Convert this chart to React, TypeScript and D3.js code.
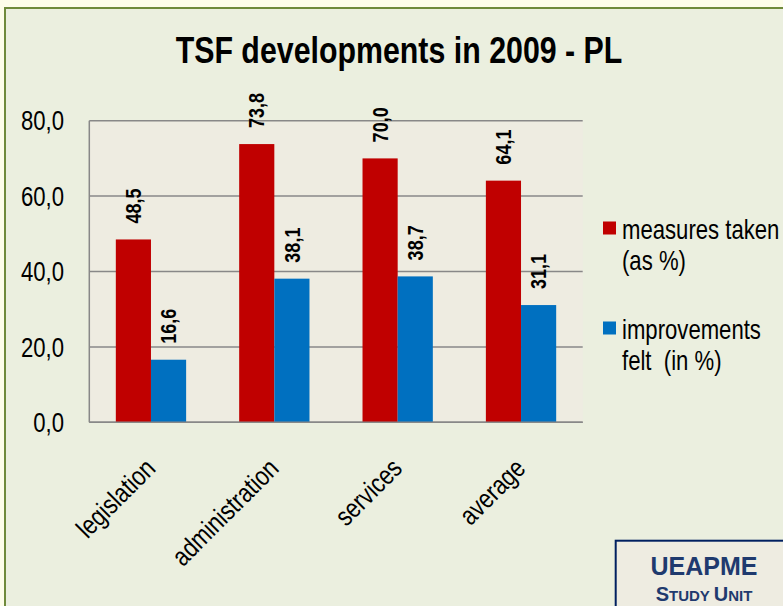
import React from "react";
import { scaleBand, scaleLinear, formatLocale } from "d3";

const categories = ["legislation", "administration", "services", "average"];
const measuresTaken = [48.5, 73.8, 70.0, 64.1];
const improvementsFelt = [16.6, 38.1, 38.7, 31.1];
const seriesKeys = ["measures", "improvements"];
const yTicks = [0, 20, 40, 60, 80];

const width = 783;
const height = 606;
const plot = { left: 89.3, right: 582.7, top: 120.7, bottom: 422.3 };

// Arial Narrow isn't installed -> squeeze Liberation Sans along the text direction
const sans = "'Liberation Sans', Arial, sans-serif";
const squeeze = 0.82;
const colors = { measures: "#c00000", improvements: "#0070c0" };
const fmt = formatLocale({ decimal: ",", thousands: ".", grouping: [3], currency: ["", ""] }).format(".1f");

const NarrowText = ({ x, y, rotate = 0, anchor = "start", size, bold = false, dy = undefined, fill = "#000", children }) => (
	<text
		transform={`translate(${x},${y}) rotate(${rotate}) scale(${squeeze},1)`}
		textAnchor={anchor}
		dy={dy}
		fontFamily={sans}
		fontWeight={bold ? "bold" : "normal"}
		fontSize={size}
		fill={fill}
		xmlSpace="preserve"
	>
		{children}
	</text>
);

const App = () => {
	const x0 = scaleBand()
		.domain(categories)
		.range([plot.left, plot.right])
		.paddingInner(0.43)
		.paddingOuter(0.215);

	const x1 = scaleBand().domain(seriesKeys).range([0, x0.bandwidth()]);

	const y = scaleLinear().domain([0, 80]).range([plot.bottom, plot.top]);

	const rows = categories.map((c, i) => ({
		category: c,
		values: [
			{ key: "measures", value: measuresTaken[i] },
			{ key: "improvements", value: improvementsFelt[i] },
		],
	}));

	return (
		<svg width={width} height={height} style={{ position: "absolute", left: 0, top: 0 }}>
			{/* page + chart area */}
			<rect x={0} y={0} width={width} height={height} fill="#fdfdea" />
			<rect x={5} y={8} width={width + 10} height={height + 10} fill="#ebefdf" stroke="#6f8a3c" strokeWidth={2} />

			<NarrowText x={399} y={63} anchor="middle" size={37} bold>
				TSF developments in 2009 - PL
			</NarrowText>

			{/* plot area */}
			<rect x={plot.left} y={plot.top} width={plot.right - plot.left} height={plot.bottom - plot.top} fill="#eeece1" />
			{yTicks.map((t) => (
				<g key={t}>
					<line x1={plot.left} x2={plot.right} y1={y(t)} y2={y(t)} stroke="#888888" strokeWidth={1.5} />
					<NarrowText x={64} y={y(t)} dy="0.36em" anchor="end" size={27}>
						{fmt(t)}
					</NarrowText>
				</g>
			))}
			<line x1={plot.left} x2={plot.left} y1={plot.top} y2={plot.bottom} stroke="#888888" strokeWidth={1.5} />

			{rows.map((r) => (
				<g key={r.category} transform={`translate(${x0(r.category)},0)`}>
					{r.values.map((d) => (
						<g key={d.key}>
							<rect
								x={x1(d.key)}
								y={y(d.value)}
								width={x1.bandwidth()}
								height={y(0) - y(d.value)}
								fill={colors[d.key]}
							/>
							<NarrowText
								x={x1(d.key) + x1.bandwidth() / 2}
								y={y(d.value) - 16}
								rotate={-90}
								dy="0.35em"
								size={22}
								bold
							>
								{fmt(d.value)}
							</NarrowText>
						</g>
					))}
				</g>
			))}
			<line x1={plot.left} x2={plot.right} y1={plot.bottom} y2={plot.bottom} stroke="#888888" strokeWidth={1.5} />

			{/* category labels */}
			{categories.map((c) => (
				<NarrowText key={c} x={x0(c) + x0.bandwidth() / 2 + 6} y={470} rotate={-45} anchor="end" size={27}>
					{c}
				</NarrowText>
			))}

			{/* legend */}
			<rect x={603} y={221.5} width={13} height={13} fill={colors.measures} />
			<NarrowText x={622} y={239} size={27}>measures taken</NarrowText>
			<NarrowText x={622} y={270} size={27}>(as %)</NarrowText>
			<rect x={603} y={321.5} width={13} height={13} fill={colors.improvements} />
			<NarrowText x={622} y={339} size={27}>improvements</NarrowText>
			<NarrowText x={622} y={370} size={27}>felt  (in %)</NarrowText>

			{/* UEAPME box */}
			<rect x={615.7} y={540.7} width={200} height={100} fill="#eeece1" stroke="#002060" strokeWidth={2} />
			<text x={704} y={575} textAnchor="middle" fontFamily={sans} fontWeight="bold" fontSize={25} fill="#1f3a6e">
				UEAPME
			</text>
			<text x={704} y={601} textAnchor="middle" fontFamily={sans} fontWeight="bold" fill="#1f3a6e">
				<tspan fontSize={20}>S</tspan>
				<tspan fontSize={15}>TUDY </tspan>
				<tspan fontSize={20}>U</tspan>
				<tspan fontSize={15}>NIT</tspan>
			</text>
		</svg>
	);
};

export default App;
